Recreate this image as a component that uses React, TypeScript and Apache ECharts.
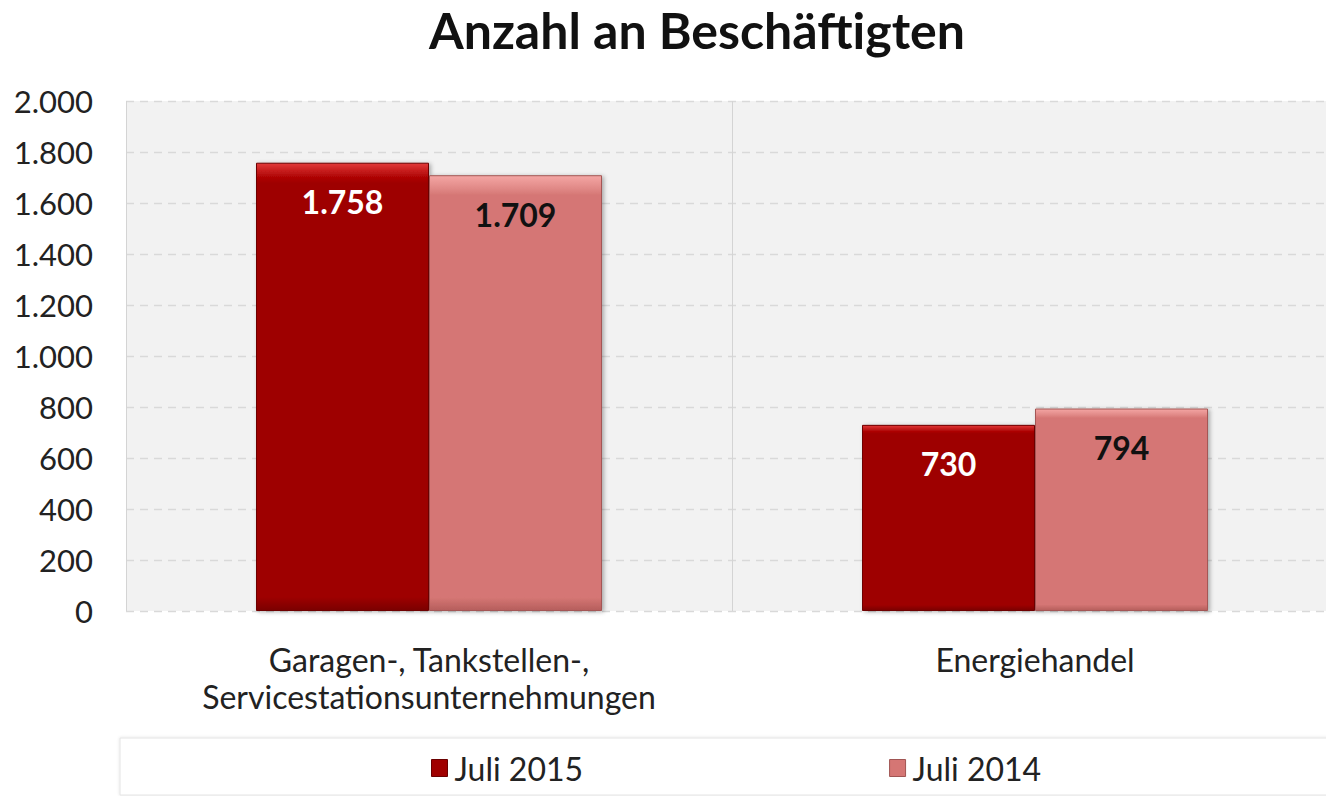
import React, { useEffect, useRef } from "react";
import * as echarts from "echarts";

const categories = ["Garagen-, Tankstellen-,\nServicestationsunternehmungen", "Energiehandel"];
const seriesNames = ["Juli 2015", "Juli 2014"];
const values2015 = [1758, 730];
const values2014 = [1709, 794];
const yTicks = { min: 0, max: 2000, interval: 200 };

const FONT = "Lato, 'Open Sans', sans-serif";

const fmt = (v: number) => String(v).replace(/\B(?=(\d{3})+(?!\d))/g, ".");

export default function App() {
  const ref = useRef<HTMLDivElement>(null);
  useEffect(() => {
    if (!ref.current) return;
    const chart = echarts.init(ref.current, undefined, { renderer: "svg" });
    const darkGrad = new echarts.graphic.LinearGradient(0, 0, 0, 1, [
      { offset: 0, color: "#e23a3a" },
      { offset: 0.03, color: "#b00606" },
      { offset: 0.045, color: "#9e0404" },
      { offset: 0.97, color: "#9e0404" },
      { offset: 1, color: "#7a0000" },
    ]);
    const lightGrad = new echarts.graphic.LinearGradient(0, 0, 0, 1, [
      { offset: 0, color: "#f4a6a4" },
      { offset: 0.03, color: "#e08886" },
      { offset: 0.045, color: "#d57674" },
      { offset: 0.97, color: "#d57674" },
      { offset: 1, color: "#b55e5c" },
    ]);
    chart.setOption({
      animation: false,
      title: {
        text: "Anzahl an Beschäftigten",
        left: 697,
        textAlign: "center",
        top: 2,
        padding: 0,
        textStyle: { fontFamily: FONT, fontSize: 50, fontWeight: "bold", color: "#111", lineHeight: 56 },
      },
      graphic: [
        {
          type: "rect",
          shape: { x: 120, y: 738, width: 1230, height: 57 },
          style: { fill: "#ffffff", stroke: "#e4e4e4", lineWidth: 1, shadowBlur: 3, shadowColor: "rgba(0,0,0,0.12)" },
          z: -1,
        },
      ],
      legend: {
        data: [
          { name: seriesNames[0], itemStyle: { color: "#a00000", borderColor: "#6a0000", borderWidth: 1 } },
          { name: seriesNames[1], itemStyle: { color: "#d57674", borderColor: "#a05553", borderWidth: 1 } },
        ],
        left: 426,
        top: 747,
        icon: "rect",
        itemWidth: 16,
        itemHeight: 17,
        itemGap: 306,
        textStyle: { fontFamily: FONT, fontSize: 32, color: "#222", padding: [0, 0, 0, 2] },
      },
      grid: {
        left: 126,
        top: 101,
        width: 1212,
        height: 510,
        outerBoundsMode: "none",
        containLabel: false,
        show: true,
        backgroundColor: "#f2f2f2",
        borderWidth: 0,
      },
      xAxis: {
        type: "category",
        data: categories,
        axisLine: { show: false },
        axisTick: { show: false },
        axisLabel: {
          fontFamily: FONT,
          fontSize: 32,
          color: "#222",
          margin: 30,
          lineHeight: 37,
        },
        splitLine: {
          show: true,
          interval: 0,
          lineStyle: { color: "#d4d4d4", width: 1 },
        },
      },
      yAxis: {
        type: "value",
        min: yTicks.min,
        max: yTicks.max,
        interval: yTicks.interval,
        axisLine: { show: false },
        axisTick: { show: false },
        axisLabel: {
          fontFamily: FONT,
          fontSize: 31,
          color: "#222",
          margin: 33,
          formatter: (v: number) => fmt(v),
        },
        splitLine: { lineStyle: { color: "#d9d9d9", type: [8, 6], width: 1.3 } },
      },
      series: [
        {
          name: seriesNames[0],
          type: "bar",
          data: values2015,
          barWidth: 173,
          barGap: "0%",
          itemStyle: {
            color: darkGrad,
            borderColor: "#6e0000",
            borderWidth: 1,
            shadowBlur: 4,
            shadowOffsetX: 2,
            shadowOffsetY: 1,
            shadowColor: "rgba(0,0,0,0.3)",
          },
          label: {
            show: true,
            position: "insideTop",
            distance: 23,
            fontFamily: FONT,
            fontSize: 32,
            fontWeight: "bold",
            color: "#ffffff",
            formatter: (p: any) => fmt(p.value),
          },
        },
        {
          name: seriesNames[1],
          type: "bar",
          data: values2014,
          barWidth: 173,
          barGap: "0%",
          itemStyle: {
            color: lightGrad,
            borderColor: "#a45755",
            borderWidth: 1,
            shadowBlur: 4,
            shadowOffsetX: 2,
            shadowOffsetY: 1,
            shadowColor: "rgba(0,0,0,0.3)",
          },
          label: {
            show: true,
            position: "insideTop",
            distance: 23,
            fontFamily: FONT,
            fontSize: 32,
            fontWeight: "bold",
            color: "#111111",
            formatter: (p: any) => fmt(p.value),
          },
        },
      ],
    });
    return () => chart.dispose();
  }, []);
  return (
    <div
      ref={ref}
      style={{ position: "fixed", left: 0, top: 0, width: 1326, height: 796, background: "#fff" }}
    />
  );
}
